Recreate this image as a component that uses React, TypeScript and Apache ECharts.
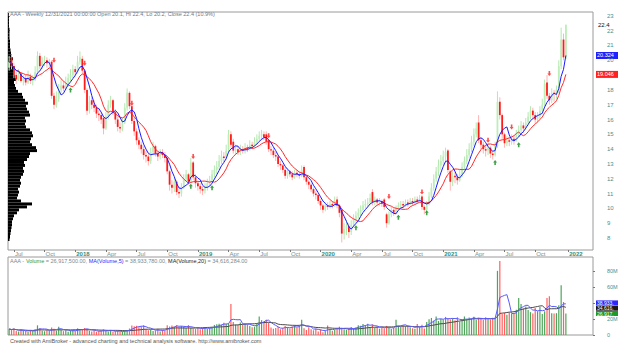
import React, { useEffect, useRef } from "react";
import * as echarts from "echarts";

const FIRST_BAR_UTC = Date.UTC(2017, 5, 23);
const TOTAL_SLOTS = 248;

// [open, close, low, high] weekly bars
const ohlc: number[][] = [
  [19.5, 19.9, 19.3, 20.3], [20.2, 19.6, 19.4, 20.4], [19.6, 19.0, 18.8, 19.8], [19.0, 18.7, 18.4, 19.2], [18.7, 19.1, 18.6, 19.4],
  [19.1, 18.6, 18.5, 19.2], [18.6, 18.8, 18.3, 19.0], [18.8, 18.5, 18.3, 19.0], [18.5, 18.9, 18.4, 19.3], [18.9, 18.6, 18.4, 19.1],
  [18.6, 18.7, 18.3, 19.0], [18.7, 19.2, 18.6, 19.6], [19.2, 20.3, 19.1, 20.6], [20.3, 19.6, 19.4, 20.5], [19.6, 19.9, 19.4, 20.2],
  [19.9, 20.0, 19.6, 20.3], [20.0, 19.8, 19.5, 20.2], [19.8, 19.9, 19.5, 20.1], [19.9, 17.6, 17.4, 20.0], [17.6, 17.0, 16.7, 17.8],
  [17.0, 17.4, 16.8, 17.9], [17.4, 18.0, 17.2, 18.4], [18.0, 18.3, 17.8, 18.7], [18.3, 18.1, 17.9, 18.6], [18.1, 18.5, 18.0, 18.9],
  [18.5, 18.8, 18.2, 19.1], [18.8, 19.0, 18.6, 19.4], [19.0, 19.4, 18.8, 19.7], [19.4, 19.2, 18.9, 19.6], [19.2, 19.9, 19.1, 20.3],
  [19.9, 20.2, 19.7, 20.6], [20.1, 19.3, 19.1, 20.3], [19.3, 18.0, 17.8, 19.4], [18.0, 16.6, 16.3, 18.1], [16.6, 17.2, 16.4, 17.6],
  [17.3, 17.0, 16.7, 17.5], [17.0, 16.8, 16.5, 17.3], [16.8, 16.4, 16.1, 17.0], [16.4, 16.3, 15.9, 16.7], [16.3, 16.0, 15.7, 16.5],
  [16.1, 15.4, 15.0, 16.2], [15.4, 16.2, 15.3, 16.5], [16.2, 17.0, 16.0, 17.3], [17.0, 17.3, 16.8, 17.6], [17.3, 16.5, 16.3, 17.4],
  [16.5, 16.0, 15.7, 16.7], [16.0, 15.5, 15.2, 16.2], [15.5, 15.4, 15.1, 15.8], [15.4, 15.8, 15.2, 16.1], [15.8, 16.8, 15.7, 17.1],
  [16.8, 17.8, 16.6, 18.1], [17.8, 16.9, 16.7, 17.9], [16.9, 15.9, 15.7, 17.0], [15.9, 15.2, 14.9, 16.1], [15.2, 14.6, 14.3, 15.4],
  [14.6, 14.3, 14.0, 14.8], [14.3, 14.0, 13.7, 14.5], [14.0, 13.6, 13.3, 14.2], [13.6, 13.5, 13.1, 13.9], [13.5, 13.2, 12.9, 13.7],
  [13.2, 13.8, 13.0, 14.1], [13.8, 14.2, 13.6, 14.5], [14.2, 13.7, 13.5, 14.3], [13.7, 13.5, 13.2, 13.9], [13.5, 13.8, 13.3, 14.0],
  [13.8, 13.6, 13.4, 14.0], [13.6, 13.4, 13.1, 13.8], [13.4, 12.5, 12.3, 13.5], [12.5, 11.6, 11.2, 12.6], [11.6, 11.4, 11.0, 11.9],
  [11.4, 11.8, 11.1, 12.1], [11.8, 11.1, 10.9, 11.9], [11.1, 11.0, 10.7, 11.4], [11.0, 11.4, 10.8, 11.7], [11.4, 12.0, 11.3, 12.3],
  [12.0, 12.3, 11.8, 12.6], [12.3, 11.8, 11.6, 12.4], [11.8, 13.1, 11.7, 13.4], [13.1, 12.1, 11.9, 13.2], [12.1, 11.7, 11.4, 12.3],
  [11.7, 11.5, 11.2, 11.9], [11.5, 11.3, 11.0, 11.7], [11.3, 11.2, 10.9, 11.5], [11.2, 11.4, 11.0, 11.7], [11.4, 11.7, 11.2, 12.0],
  [11.7, 11.9, 11.5, 12.2], [11.9, 12.3, 11.7, 12.6], [12.3, 12.6, 12.1, 12.9], [12.6, 12.8, 12.3, 13.2], [12.8, 13.2, 12.6, 13.6],
  [13.2, 13.5, 13.0, 13.9], [13.5, 13.4, 13.1, 13.8], [13.4, 13.9, 13.3, 14.3], [14.0, 15.0, 13.8, 15.3], [15.0, 14.3, 14.1, 15.2],
  [14.5, 13.9, 13.7, 14.7], [13.9, 14.0, 13.6, 14.3], [14.0, 13.8, 13.6, 14.2], [13.8, 14.0, 13.6, 14.3], [14.0, 13.9, 13.7, 14.2],
  [13.9, 14.1, 13.7, 14.4], [14.1, 14.0, 13.8, 14.3], [14.0, 14.3, 13.9, 14.6], [14.3, 14.2, 14.0, 14.5], [14.2, 14.5, 14.1, 14.8],
  [14.5, 14.7, 14.3, 15.0], [14.7, 14.9, 14.5, 15.2], [14.9, 15.0, 14.6, 15.3], [15.0, 14.8, 14.6, 15.2], [15.0, 14.5, 14.3, 15.2],
  [14.6, 14.0, 13.8, 14.7], [14.0, 13.9, 13.6, 14.2], [13.9, 13.6, 13.4, 14.1], [13.6, 13.5, 13.2, 13.8], [13.5, 13.0, 12.8, 13.6],
  [13.0, 12.9, 12.6, 13.2], [12.9, 12.6, 12.4, 13.0], [12.6, 12.2, 12.0, 12.8], [12.2, 12.5, 12.0, 12.7], [12.5, 12.3, 12.1, 12.6],
  [12.3, 12.1, 11.9, 12.5], [12.1, 12.4, 12.0, 12.6], [12.4, 12.3, 12.1, 12.6], [12.3, 12.2, 12.0, 12.5], [12.2, 12.6, 12.1, 12.9],
  [12.8, 12.1, 11.9, 12.9], [12.1, 11.8, 11.6, 12.2], [11.8, 11.6, 11.3, 11.9], [11.6, 11.3, 11.1, 11.7], [11.3, 11.0, 10.8, 11.4],
  [11.0, 10.9, 10.6, 11.2], [10.9, 10.5, 10.3, 11.0], [10.5, 10.2, 9.9, 10.6], [10.2, 9.9, 9.7, 10.3], [9.9, 10.2, 9.8, 10.4],
  [10.2, 10.1, 9.9, 10.4], [10.1, 10.3, 10.0, 10.5], [10.3, 10.2, 10.0, 10.5], [10.2, 10.5, 10.1, 10.8], [10.6, 10.2, 10.0, 10.8],
  [10.2, 9.7, 9.4, 10.3], [9.9, 8.3, 7.7, 10.0], [8.3, 8.6, 7.9, 9.0], [8.6, 8.8, 8.2, 9.2], [8.8, 8.4, 8.0, 9.0],
  [8.4, 8.9, 8.2, 9.2], [8.9, 9.3, 8.7, 9.6], [9.3, 9.5, 9.0, 9.8], [9.5, 9.7, 9.3, 10.0], [9.7, 9.9, 9.5, 10.2],
  [9.9, 10.2, 9.8, 10.5], [10.2, 10.3, 10.0, 10.6], [10.3, 10.4, 10.1, 10.7], [10.4, 10.7, 10.3, 11.0], [11.1, 10.4, 10.2, 11.3],
  [10.4, 10.6, 10.2, 10.8], [10.6, 10.4, 10.2, 10.7], [10.4, 10.5, 10.2, 10.7], [10.5, 10.3, 10.1, 10.6], [10.6, 10.1, 9.9, 10.7],
  [9.6, 9.0, 8.7, 9.7], [9.0, 9.6, 8.9, 9.8], [9.6, 9.9, 9.4, 10.1], [9.9, 9.7, 9.5, 10.0], [9.7, 10.0, 9.6, 10.2],
  [10.0, 10.2, 9.9, 10.4], [10.2, 10.3, 10.0, 10.5], [10.3, 10.2, 10.0, 10.5], [10.2, 10.4, 10.1, 10.6], [10.4, 10.3, 10.1, 10.6],
  [10.3, 10.5, 10.2, 10.7], [10.5, 10.4, 10.2, 10.7], [10.4, 10.6, 10.3, 10.8], [10.6, 10.5, 10.3, 10.8], [10.5, 10.7, 10.4, 10.9],
  [10.8, 10.1, 9.9, 10.9], [10.1, 9.9, 9.6, 10.2], [9.9, 10.3, 9.7, 10.5], [10.3, 10.8, 10.2, 11.1], [10.8, 11.4, 10.7, 11.7],
  [11.4, 12.0, 11.2, 12.3], [12.0, 12.5, 11.8, 12.8], [12.5, 12.9, 12.2, 13.3], [12.9, 13.2, 12.6, 13.6], [13.2, 13.5, 12.9, 13.9],
  [13.5, 13.8, 13.1, 14.1], [13.9, 12.6, 12.4, 14.0], [12.5, 11.8, 11.2, 12.6], [11.8, 12.2, 11.5, 12.5], [12.2, 12.1, 11.7, 12.5],
  [12.1, 11.9, 11.6, 12.3], [11.9, 12.3, 11.8, 12.6], [12.3, 12.8, 12.1, 13.1], [12.8, 13.2, 12.6, 13.5], [13.2, 13.6, 13.0, 14.0],
  [13.6, 14.0, 13.4, 14.4], [14.0, 14.5, 13.8, 14.9], [14.5, 15.0, 14.2, 15.4], [15.0, 15.4, 14.8, 15.8], [15.8, 14.6, 14.4, 16.3],
  [14.6, 14.3, 14.0, 14.8], [14.3, 14.0, 13.7, 14.5], [14.0, 13.9, 13.5, 14.3], [13.9, 14.1, 13.6, 14.4], [14.1, 13.7, 13.4, 14.2],
  [13.7, 13.6, 13.3, 13.9], [13.6, 14.2, 13.5, 14.5], [14.2, 17.2, 14.1, 17.9], [17.2, 16.3, 16.0, 17.5], [16.3, 15.0, 14.7, 16.4],
  [15.0, 14.4, 14.1, 15.1], [14.4, 14.6, 14.2, 14.9], [14.6, 14.5, 14.2, 14.8], [14.5, 14.7, 14.3, 15.0], [14.7, 14.6, 14.3, 14.9],
  [14.6, 15.0, 14.5, 15.3], [15.0, 15.3, 14.8, 15.6], [15.3, 15.6, 15.1, 15.9], [15.6, 15.4, 15.1, 15.8], [15.4, 15.8, 15.3, 16.1],
  [15.8, 16.2, 15.6, 16.5], [16.2, 16.6, 16.0, 16.9], [16.6, 16.3, 16.0, 16.8], [16.3, 16.0, 15.7, 16.5], [16.0, 16.2, 15.8, 16.5],
  [16.2, 16.6, 16.0, 16.9], [16.6, 17.0, 16.4, 17.4], [17.0, 18.4, 16.9, 18.7], [18.5, 17.6, 17.4, 19.0], [17.6, 17.3, 17.0, 17.8],
  [17.3, 17.8, 17.1, 18.1], [17.8, 17.74, 17.2, 18.0], [17.74, 18.021, 17.4, 18.3], [18.0, 19.6, 17.8, 20.0], [19.6, 21.4, 19.4, 22.2],
  [21.4, 20.2, 20.0, 21.8], [20.1, 22.4, 20.2, 22.4],
];

// weekly volume, millions of shares
const volumeM: number[] = [
  7.5, 6.2, 8.0, 5.1, 4.3, 6.8, 5.5, 4.9, 3.8, 6.1,
  4.6, 7.2, 12.1, 8.4, 5.3, 4.7, 6.0, 5.2, 9.5, 7.8,
  5.4, 10.2, 6.3, 4.8, 5.9, 4.1, 5.6, 6.4, 5.0, 8.3,
  7.1, 6.6, 8.9, 7.4, 5.2, 4.4, 5.8, 3.9, 4.7, 5.5,
  6.9, 5.1, 4.3, 6.2, 3.8, 4.6, 5.3, 4.2, 3.9, 5.7,
  6.4, 8.1, 12.0, 10.8, 11.5, 9.6, 10.9, 12.2, 7.3, 5.8,
  6.7, 4.9, 5.6, 7.8, 4.5, 6.2, 5.1, 12.3, 10.6, 11.8,
  10.2, 12.1, 9.8, 11.4, 10.5, 8.7, 12.4, 9.1, 8.2, 7.4,
  9.3, 7.1, 8.6, 9.8, 7.7, 8.5, 9.9, 12.6, 13.4, 14.1,
  12.8, 15.2, 13.6, 14.4, 38.8, 16.1, 13.2, 12.5, 15.7, 12.9,
  14.3, 13.1, 11.2, 9.6, 10.4, 13.8, 23.2, 18.6, 16.4, 19.1,
  15.3, 9.4, 7.8, 8.6, 10.1, 7.2, 8.9, 11.3, 9.6, 8.1,
  10.7, 12.2, 9.4, 11.8, 19.2, 8.3, 6.4, 9.7, 7.1, 5.9,
  8.2, 4.3, 6.8, 3.5, 5.4, 11.8, 7.6, 4.9, 6.1, 8.8,
  10.4, 9.2, 7.3, 6.6, 8.4, 10.1, 7.9, 9.5, 12.3, 11.7,
  13.6, 12.1, 14.2, 9.8, 13.1, 8.7, 10.6, 7.9, 9.3, 8.1,
  11.4, 9.0, 7.6, 8.8, 19.1, 11.6, 10.2, 12.0, 10.8, 11.5,
  9.7, 8.4, 7.9, 13.8, 9.6, 12.9, 8.2, 16.4, 19.8, 21.3,
  18.2, 23.1, 17.6, 20.4, 19.3, 22.6, 21.1, 19.7, 20.9, 18.4,
  22.3, 16.8, 17.4, 23.2, 19.6, 21.8, 20.1, 22.7, 19.2, 21.4,
  20.6, 18.9, 22.1, 20.3, 19.5, 21.6, 20.8, 80.2, 92.4, 26.5,
  27.8, 25.3, 28.1, 26.4, 27.2, 31.6, 46.3, 38.8, 33.1, 35.7,
  31.4, 28.6, 26.8, 33.9, 29.7, 35.1, 26.2, 29.75678, 46.1, 48.4,
  27.3, 26.8, 27.3, 37.1514, 62.1, 41.2, 26.9175,
];

// [bar index, price] for signal arrows
const buySignals: number[][] = [[26, 18.0], [77, 11.5], [86, 11.4], [147, 8.7], [165, 9.4], [177, 9.7], [206, 13.1], [216, 14.3]];
const sellSignals: number[][] = [[19, 20.0], [32, 19.8], [52, 17.1], [78, 13.5], [110, 14.9], [161, 10.8], [175, 11.1], [203, 14.6], [213, 15.5], [229, 19.1]];

// tick positions, and the labels left visible next to the value boxes
const priceTicks = [8, 9, 10, 11, 12, 13, 14, 15, 16, 17, 18, 19, 20, 21, 22, 23];
const priceTickLabels = [8, 9, 10, 11, 12, 13, 14, 15, 16, 17, 18, 20, 21, 22, 23];
const volumeTicks = [0, 20, 40, 60, 80];
const volumeTickLabels = [0, 20, 60, 80];

// volume-at-price profile: bin centre price and relative volume
const vapPrice = [
  7.9, 8.1, 8.3, 8.5, 8.7, 8.9, 9.1, 9.3, 9.5, 9.7, 9.9, 10.1, 10.3, 10.5, 10.7, 10.9, 11.1, 11.3, 11.5, 11.7,
  11.9, 12.1, 12.3, 12.5, 12.7, 12.9, 13.1, 13.3, 13.5, 13.7, 13.9, 14.1, 14.3, 14.5, 14.7, 14.9, 15.1, 15.3, 15.5, 15.7,
  15.9, 16.1, 16.3, 16.5, 16.7, 16.9, 17.1, 17.3, 17.5, 17.7, 17.9, 18.1, 18.3, 18.5, 18.7, 18.9, 19.1, 19.3, 19.5, 19.7,
  19.9, 20.1, 20.3, 20.5, 20.7, 20.9, 21.1, 21.3, 21.5, 21.7, 21.9, 22.1, 22.3, 22.5, 22.7, 22.9, 23.1,
];
const vapVolume = [
  1.5, 2, 2.5, 3, 3.5, 4, 4, 5, 6, 9, 11, 19, 24, 13, 9, 10, 11, 10, 12, 13,
  12, 13, 15, 16, 15, 17, 16, 19, 21, 22, 29, 28, 24, 22, 23, 25, 24, 22, 18, 17,
  18, 17, 22, 21, 19, 18, 20, 17, 15, 14, 10, 8, 7, 6, 8, 7, 5, 6, 7, 5,
  4, 5, 4, 3, 2.5, 2, 2, 2, 1.5, 1.5, 1.5, 1.5, 1, 1, 1, 1, 0.8,
];

const MONTHS = ["Jan", "Feb", "Mar", "Apr", "May", "Jun", "Jul", "Aug", "Sep", "Oct", "Nov", "Dec"];
const FONT = "Liberation Sans, Arial, sans-serif";

function sma(arr: number[], n: number): number[] {
  return arr.map((_, i) => {
    const s = Math.max(0, i - n + 1);
    let t = 0;
    for (let k = s; k <= i; k++) t += arr[k];
    return t / (i - s + 1);
  });
}

const barDates = Array.from({ length: TOTAL_SLOTS }, (_, i) => new Date(FIRST_BAR_UTC + i * 7 * 86400000));
const categories = barDates.map((d) => `${d.getUTCMonth() + 1}/${d.getUTCDate()}/${d.getUTCFullYear()}`);
const isQuarterStart = (i: number) =>
  i > 0 && barDates[i].getUTCMonth() % 3 === 0 && barDates[i].getUTCMonth() !== barDates[i - 1].getUTCMonth();

const closes = ohlc.map((d) => d[1]);
const ma5 = sma(closes, 5);
const ma10 = sma(closes, 10);
const volMa5 = sma(volumeM, 5);
const volMa20 = sma(volumeM, 20);

const fmt2 = (n: number) => n.toLocaleString("en-US", { minimumFractionDigits: 2, maximumFractionDigits: 2 });

// spread stacked value boxes symmetrically so they never overlap
function spread(items: { y: number }[], gap: number) {
  const s = [...items].sort((a, b) => a.y - b.y);
  for (let it = 0; it < 30; it++) {
    for (let k = 1; k < s.length; k++) {
      const d = gap - (s[k].y - s[k - 1].y);
      if (d > 0) { s[k - 1].y -= d / 2; s[k].y += d / 2; }
    }
  }
  return items;
}

export default function App() {
  const ref = useRef<HTMLDivElement>(null);
  useEffect(() => {
    if (!ref.current) return;
    const chart = echarts.init(ref.current, undefined, { renderer: "svg" });
    const last = ohlc.length - 1;
    const option: any = {
      animation: false,
      backgroundColor: "#ffffff",
      grid: [
        { left: 8, right: 47, top: 12, height: 238, show: true, borderColor: "#9a9a9a", borderWidth: 1 },
        { left: 8, right: 47, top: 257, height: 78, show: true, borderColor: "#9a9a9a", borderWidth: 1 },
      ],
      xAxis: [
        {
          type: "category", gridIndex: 0, data: categories, boundaryGap: true,
          axisLine: { show: false },
          axisTick: { show: true, interval: (i: number) => isQuarterStart(i), alignWithLabel: true, length: 2, lineStyle: { color: "#777" } },
          axisLabel: {
            interval: (i: number) => isQuarterStart(i), margin: 1, align: "left", padding: [0, 0, 0, 1],
            fontFamily: FONT, fontSize: 6,
            formatter: (_v: string, i: number) => {
              const d = barDates[i];
              return d.getUTCMonth() === 0 ? `{y|${d.getUTCFullYear()}}` : `{m|${MONTHS[d.getUTCMonth()]}}`;
            },
            rich: {
              y: { fontFamily: FONT, fontSize: 6, fontWeight: "bold", color: "#2f8f80" },
              m: { fontFamily: FONT, fontSize: 6, color: "#7d9090" },
            },
          },
          splitLine: { show: false },
        },
        { type: "category", gridIndex: 1, data: categories, boundaryGap: true, axisLine: { show: false }, axisTick: { show: false }, axisLabel: { show: false } },
        { type: "value", gridIndex: 0, min: 0, max: 585, show: false },
      ],
      yAxis: [
        {
          type: "value", gridIndex: 0, position: "right", min: 7.19, max: 23.26, scale: true,
          axisLine: { show: false }, splitLine: { show: false },
          axisTick: { show: true, customValues: priceTicks, length: 2, lineStyle: { color: "#777" } },
          axisLabel: { customValues: priceTickLabels, margin: 14, fontFamily: FONT, fontSize: 6, color: "#4a9090" },
        },
        {
          type: "value", gridIndex: 1, position: "right", min: 0, max: 97.5,
          axisLine: { show: false }, splitLine: { show: false },
          axisTick: { show: true, customValues: volumeTicks, length: 2, lineStyle: { color: "#777" } },
          axisLabel: { customValues: volumeTickLabels, margin: 14, fontFamily: FONT, fontSize: 5.5, color: "#4a9090", formatter: (v: number) => (v === 0 ? "0" : `${v}M`) },
        },
      ],
      series: [
        {
          type: "custom", name: "VAP", xAxisIndex: 2, yAxisIndex: 0, z: 1,
          data: vapPrice.map((p, k) => [vapVolume[k], p]),
          encode: { x: 0, y: 1 },
          renderItem: (_p: any, api: any) => {
            const v = api.value(0), p = api.value(1);
            const a = api.coord([0, p + 0.1]);
            const b = api.coord([v, p - 0.1]);
            return { type: "rect", shape: { x: a[0], y: a[1], width: b[0] - a[0], height: b[1] - a[1] }, style: { fill: "#000" } };
          },
        },
        {
          type: "custom", name: "Price", xAxisIndex: 0, yAxisIndex: 0, z: 2,
          data: ohlc.map((d, i) => [i, d[0], d[1], d[2], d[3]]),
          encode: { x: 0, y: [1, 2, 3, 4] },
          renderItem: (_p: any, api: any) => {
            const i = api.value(0);
            const o = api.value(1), c = api.value(2), l = api.value(3), h = api.value(4);
            const pO = api.coord([i, o]), pC = api.coord([i, c]), pL = api.coord([i, l]), pH = api.coord([i, h]);
            const bw = Math.max(1, api.size([1, 0])[0] * 0.75);
            const up = c >= o;
            const top = Math.min(pO[1], pC[1]);
            const hgt = Math.max(1, Math.abs(pO[1] - pC[1]));
            return {
              type: "group",
              children: [
                { type: "line", shape: { x1: pH[0], y1: pH[1], x2: pL[0], y2: pL[1] }, style: { stroke: up ? "#b4e8b0" : "#ffb4b4", lineWidth: 1 } },
                { type: "rect", shape: { x: pO[0] - bw / 2, y: top, width: bw, height: hgt }, style: { fill: up ? "#bdeeb8" : "#ff1a1a" } },
              ],
            };
          },
        },
        { type: "line", name: "MA10", xAxisIndex: 0, yAxisIndex: 0, data: ma10, showSymbol: false, z: 3, lineStyle: { color: "#ff2a2a", width: 1 } },
        { type: "line", name: "MA5", xAxisIndex: 0, yAxisIndex: 0, data: ma5, showSymbol: false, z: 4, lineStyle: { color: "#1a1aff", width: 1 } },
        {
          type: "scatter", name: "Buy", xAxisIndex: 0, yAxisIndex: 0, z: 5, data: buySignals,
          symbol: "path://M5,0 L10,5 L7,5 L7,10 L3,10 L3,5 L0,5 Z", symbolSize: [4, 5], itemStyle: { color: "#0f8a1a" },
        },
        {
          type: "scatter", name: "Sell", xAxisIndex: 0, yAxisIndex: 0, z: 5, data: sellSignals,
          symbol: "path://M5,0 L10,5 L7,5 L7,10 L3,10 L3,5 L0,5 Z", symbolRotate: 180, symbolSize: [4, 5], itemStyle: { color: "#ff2020" },
        },
        {
          type: "bar", name: "Volume", xAxisIndex: 1, yAxisIndex: 1, barWidth: 1.2, z: 2,
          data: volumeM.map((v, i) => ({ value: v, itemStyle: { color: ohlc[i][1] >= ohlc[i][0] ? "#4ea55a" : "#ff5f5f" } })),
        },
        { type: "line", name: "MA(Volume,20)", xAxisIndex: 1, yAxisIndex: 1, data: volMa20, showSymbol: false, z: 3, lineStyle: { color: "#4a4a4a", width: 1 } },
        { type: "line", name: "MA(Volume,5)", xAxisIndex: 1, yAxisIndex: 1, data: volMa5, showSymbol: false, z: 4, lineStyle: { color: "#5a5aff", width: 1 } },
      ],
    };
    chart.setOption(option);

    const py = (v: number) => chart.convertToPixel({ yAxisIndex: 0 }, v) as number;
    const vy = (v: number) => chart.convertToPixel({ yAxisIndex: 1 }, v) as number;
    const box = (y: number, text: string, bg: string, fg: string, h: number) => ({
      type: "group", z: 100,
      children: [
        { type: "rect", shape: { x: 596, y: y - h / 2, width: 22, height: h }, style: { fill: bg } },
        { type: "text", x: 597, y: y, style: { text, fill: fg, fontSize: h < 6.5 ? 5 : 5.5, fontFamily: FONT, verticalAlign: "middle", width: 20, overflow: "truncate", ellipsis: "" } },
      ],
    });
    const o = ohlc[last];
    const prevC = ohlc[last - 1][1];
    const pct = ((o[1] - prevC) / prevC) * 100;
    const lastDate = categories[last];

    const volBoxes = spread(
      [
        { y: vy(volMa5[last]), text: fmt2(volMa5[last] * 1e6), bg: "#2a2aff" },
        { y: vy(volMa20[last]), text: fmt2(volMa20[last] * 1e6), bg: "#1a1a1a" },
        { y: vy(volumeM[last]), text: fmt2(volumeM[last] * 1e6), bg: "#1a9a2a" },
      ],
      5.3
    );

    chart.setOption({
      graphic: [
        {
          type: "text", left: 10, top: 11, z: 100,
          style: { text: `AAA - Weekly ${lastDate} 00:00:00 Open ${o[0]}, Hi ${o[3]}, Lo ${o[2]}, Close ${o[1]} (${pct.toFixed(1)}%)`, fill: "#6a7a90", fontSize: 5.5, fontFamily: FONT },
        },
        {
          type: "text", left: 10, top: 258, z: 100,
          style: {
            text: `{g|AAA - }{gr|Volume}{g| = ${fmt2(volumeM[last] * 1e6)}, }{b|MA(Volume,5)}{g| = ${fmt2(volMa5[last] * 1e6)}, }{k|MA(Volume,20)}{g| = ${fmt2(volMa20[last] * 1e6)}}`,
            fontSize: 5.5, fontFamily: FONT,
            rich: {
              g: { fill: "#7a8a90", fontSize: 5.5, fontFamily: FONT },
              gr: { fill: "#2a9a3a", fontSize: 5.5, fontFamily: FONT },
              b: { fill: "#2a2aff", fontSize: 5.5, fontFamily: FONT },
              k: { fill: "#222", fontSize: 5.5, fontFamily: FONT },
            },
          },
        },
        {
          type: "text", left: 10, top: 338, z: 100,
          style: { text: "Created with AmiBroker - advanced charting and technical analysis software. http://www.amibroker.com", fill: "#555", fontSize: 5.5, fontFamily: FONT },
        },
        { type: "text", x: 598, y: py(o[1]), z: 100, style: { text: `${o[1]}`, fill: "#111", fontSize: 6, fontFamily: FONT, verticalAlign: "middle" } },
        box(py(ma5[last]), ma5[last].toFixed(4), "#2020ff", "#ffffff", 7),
        box(py(ma10[last]), ma10[last].toFixed(4), "#ff2020", "#ffffff", 7),
        ...volBoxes.map((b: any) => box(b.y, b.text, b.bg, "#ffffff", 5)),
      ],
    });
    return () => chart.dispose();
  }, []);
  return <div ref={ref} style={{ position: "fixed", left: 0, top: 0, width: 640, height: 360, background: "#fff" }} />;
}
